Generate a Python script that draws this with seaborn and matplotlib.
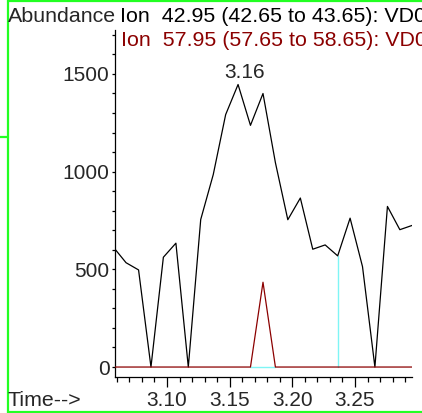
import matplotlib
matplotlib.use("Agg")
import matplotlib.pyplot as plt
import seaborn as sns
import numpy as np
import pandas as pd
from matplotlib.lines import Line2D
from matplotlib.ticker import MultipleLocator, FormatStrFormatter

sns.set_style("ticks")
plt.rcParams['font.family'] = ['Liberation Sans', 'DejaVu Sans']

# retention times (min) and abundances
times = [3.0574, 3.0673, 3.0773, 3.0872, 3.0971, 3.1071, 3.1170, 3.1269,
         3.1369, 3.1468, 3.1567, 3.1666, 3.1766, 3.1865, 3.1964, 3.2064,
         3.2163, 3.2262, 3.2362, 3.2461, 3.2560, 3.2659, 3.2759, 3.2858,
         3.2957]
ion_4295 = [612, 534, 497, 0, 562, 634, 0, 755, 985, 1292, 1446, 1237, 1400,
            1046, 754, 865, 603, 625, 569, 762, 514, 0, 822, 703, 725]
ion_5795 = [0, 0, 0, 0, 0, 0, 0, 0, 0, 0, 0, 0, 434, 0, 0, 0, 0, 0, 0, 0, 0,
            0, 0, 0, 0]
peak_label = "3.16"
peak_label_pos = (3.1622, 1505)
baseline_span = (3.1666, 3.1865)
marker_time = 3.2362
marker_height = 569

df = pd.DataFrame({"Time": times, "ion1": ion_4295, "ion2": ion_5795})

fig = plt.figure(figsize=(4.22, 4.13), dpi=100)
ax = fig.add_axes([115 / 422, 1 - 377 / 413, 297 / 422, 347 / 413])

# cyan integration markers
ax.plot(baseline_span, [0, 0], color="#7ff5f5", lw=1.0, zorder=1)
ax.plot([marker_time, marker_time], [0, marker_height], color="#7ff5f5", lw=1.0, zorder=1)

sns.lineplot(data=df, x="Time", y="ion1", ax=ax, color="black", lw=0.9, zorder=2)
sns.lineplot(data=df, x="Time", y="ion2", ax=ax, color="#8b0000", lw=0.9, zorder=3)

ax.text(peak_label_pos[0], peak_label_pos[1], peak_label, ha="center", va="center",
        fontsize=15)

ax.set_xlim(3.0585, 3.2955)
ax.set_ylim(-51, 1725)
ax.set_xlabel("")
ax.set_ylabel("")
ax.xaxis.set_major_locator(MultipleLocator(0.05))
ax.xaxis.set_minor_locator(MultipleLocator(0.01))
ax.xaxis.set_major_formatter(FormatStrFormatter("%.2f"))
ax.yaxis.set_major_locator(MultipleLocator(500))
ax.yaxis.set_minor_locator(MultipleLocator(100))
ax.tick_params(axis="both", which="both", labelsize=15, width=0.9, color="black")
ax.tick_params(axis="x", which="major", length=7, pad=3)
ax.tick_params(axis="x", which="minor", length=3.6)
ax.tick_params(axis="y", which="major", length=2.5, pad=1.5)
ax.tick_params(axis="y", which="minor", length=2.2)
for s in ["top", "right"]:
    ax.spines[s].set_visible(False)
for s in ["left", "bottom"]:
    ax.spines[s].set_color("black")
    ax.spines[s].set_linewidth(0.9)

head = 15.4
fig.text(8 / 422, 1 - 22 / 413, "Abundance", fontsize=head, va="baseline", ha="left")
fig.text(120 / 422, 1 - 22 / 413, "Ion  42.95 (42.65 to 43.65): VD0", fontsize=head,
         va="baseline", ha="left", color="black")
fig.text(121 / 422, 1 - 46 / 413, "Ion  57.95 (57.65 to 58.65): VD0", fontsize=head,
         va="baseline", ha="left", color="#8b0000")
fig.text(8 / 422, 1 - 406 / 413, "Time-->", fontsize=head, va="baseline", ha="left")

# green frame
green = "#22ff22"
fig.add_artist(Line2D([7.5 / 422, 7.5 / 422], [0, 1], transform=fig.transFigure, color=green, lw=1.6))
fig.add_artist(Line2D([7.5 / 422, 1], [1 - 411.5 / 413] * 2, transform=fig.transFigure, color=green, lw=1.6))
fig.add_artist(Line2D([7.5 / 422, 1], [1 - 0.5 / 413] * 2, transform=fig.transFigure, color=green, lw=1.6))
fig.add_artist(Line2D([0, 7.5 / 422], [1 - 137 / 413] * 2, transform=fig.transFigure, color=green, lw=1.6))

fig.savefig("out.png", dpi=100)
